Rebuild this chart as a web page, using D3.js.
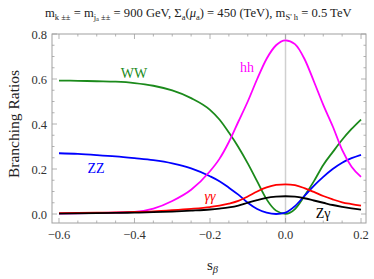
<!DOCTYPE html>
<html>
<head>
<meta charset="utf-8">
<script src="https://cdn.jsdelivr.net/npm/d3@7"></script>
<style>
  body { margin: 0; background: #fff; }
  svg { font-family: "Liberation Serif", "DejaVu Serif", serif; }
</style>
</head>
<body>
<div id="chart"></div>
<script>
// s_beta sample points
const sBeta = [-0.6, -0.55, -0.5, -0.45, -0.4, -0.35, -0.3, -0.25, -0.2, -0.175, -0.15, -0.125,
  -0.1, -0.075, -0.05, -0.025, 0, 0.025, 0.05, 0.075, 0.1, 0.125, 0.15, 0.175, 0.2];

const brWW = [0.593, 0.592, 0.590, 0.588, 0.582, 0.570, 0.549, 0.515, 0.463, 0.420, 0.362, 0.298,
  0.225, 0.145, 0.065, 0.015, 0.001, 0.022, 0.08, 0.145, 0.218, 0.275, 0.33, 0.378, 0.42];
const brZZ = [0.270, 0.267, 0.262, 0.256, 0.248, 0.239, 0.225, 0.203, 0.168, 0.146, 0.117, 0.086,
  0.05, 0.022, 0.006, 0.0, 0.006, 0.035, 0.08, 0.125, 0.165, 0.2, 0.228, 0.248, 0.263];
const brHH = [0.002, 0.003, 0.004, 0.006, 0.009, 0.024, 0.058, 0.108, 0.19, 0.245, 0.32, 0.41,
  0.5, 0.6, 0.69, 0.75, 0.772, 0.755, 0.69, 0.59, 0.485, 0.39, 0.285, 0.21, 0.165];
const brAA = [0.004, 0.005, 0.006, 0.007, 0.009, 0.012, 0.017, 0.023, 0.031, 0.037, 0.046, 0.058,
  0.078, 0.1, 0.118, 0.129, 0.132, 0.128, 0.115, 0.098, 0.08, 0.065, 0.052, 0.044, 0.037];
const brZA = [0.002, 0.003, 0.004, 0.005, 0.006, 0.008, 0.011, 0.015, 0.02, 0.024, 0.029, 0.037,
  0.05, 0.062, 0.072, 0.077, 0.079, 0.077, 0.07, 0.06, 0.05, 0.04, 0.032, 0.025, 0.019];

const xMajor = [-0.6, -0.4, -0.2, 0.0, 0.2];
const yMajor = [0.0, 0.2, 0.4, 0.6, 0.8];

const width = 374, height = 279;
const svg = d3.select("#chart").append("svg")
  .attr("width", width).attr("height", height);

const x = d3.scaleLinear().domain([-0.6185, 0.2132]).range([52, 366]);
const y = d3.scaleLinear().domain([-0.04, 0.8]).range([223, 34]);

const frameColor = "#a0a0a0";

// reference line at s = 0
svg.append("line")
  .attr("x1", x(0)).attr("x2", x(0))
  .attr("y1", y.range()[0]).attr("y2", y.range()[1])
  .attr("stroke", "#d0d0d0").attr("stroke-width", 1.5);

// frame
svg.append("rect")
  .attr("x", x.range()[0]).attr("y", y.range()[1])
  .attr("width", x.range()[1] - x.range()[0])
  .attr("height", y.range()[0] - y.range()[1])
  .attr("fill", "none").attr("stroke", frameColor).attr("stroke-width", 1);

// ticks (inside the frame)
const xMinor = d3.range(-0.6, 0.2001, 0.05).filter(v => !xMajor.some(m => Math.abs(m - v) < 1e-6));
const yMinor = d3.range(0, 0.8001, 0.05).filter(v => !yMajor.some(m => Math.abs(m - v) < 1e-6));
const ticks = svg.append("g").attr("stroke", frameColor).attr("stroke-width", 0.8);
function xTick(v, len) {
  ticks.append("line").attr("x1", x(v)).attr("x2", x(v)).attr("y1", y.range()[0]).attr("y2", y.range()[0] - len);
  ticks.append("line").attr("x1", x(v)).attr("x2", x(v)).attr("y1", y.range()[1]).attr("y2", y.range()[1] + len);
}
function yTick(v, len) {
  ticks.append("line").attr("y1", y(v)).attr("y2", y(v)).attr("x1", x.range()[0]).attr("x2", x.range()[0] + len);
  ticks.append("line").attr("y1", y(v)).attr("y2", y(v)).attr("x1", x.range()[1]).attr("x2", x.range()[1] - len);
}
xMajor.forEach(v => xTick(v, 5));
xMinor.forEach(v => xTick(v, 2.5));
yMajor.forEach(v => yTick(v, 5));
yMinor.forEach(v => yTick(v, 2.5));

// tick labels
svg.append("g").selectAll("text").data(xMajor).enter().append("text")
  .attr("x", d => x(d)).attr("y", 239)
  .attr("text-anchor", "middle").attr("font-size", 12.5).attr("fill", "#333")
  .text(d => d3.format(".1f")(d).replace("-", "\u2212"));
svg.append("g").selectAll("text").data(yMajor).enter().append("text")
  .attr("x", 47).attr("y", d => y(d) + 4.5)
  .attr("text-anchor", "end").attr("font-size", 12.5).attr("fill", "#333")
  .text(d => d3.format(".1f")(d));

// axis labels
svg.append("text")
  .attr("transform", "translate(19,124) rotate(-90)")
  .attr("text-anchor", "middle").attr("font-size", 15.5).attr("fill", "#222")
  .text("Branching Ratios");
const xl = svg.append("text").attr("x", 207).attr("y", 270).attr("font-size", 15).attr("fill", "#222");
xl.append("tspan").text("s");
xl.append("tspan").attr("font-size", 10.5).attr("font-style", "italic").attr("dy", 3).text("β");

// title
const title = svg.append("text").attr("x", 45).attr("y", 17).attr("font-size", 12.6).attr("fill", "#222");
function part(t, sub) {
  const sp = title.append("tspan").text(t);
  if (sub) sp.attr("font-size", 8.5).attr("dy", 2.5);
  return sp;
}
part("m");
part("k \u00b1\u00b1", true);
title.append("tspan").attr("dy", -2.5).text(" = m");
part("j", true);
title.append("tspan").attr("font-size", 6.5).attr("dy", 1.5).text("a");
title.append("tspan").attr("font-size", 8.5).attr("dy", -1.5).text(" \u00b1\u00b1");
title.append("tspan").attr("dy", -2.5).text(" = 900 GeV, \u03a3");
part("a", true);
title.append("tspan").attr("dy", -2.5).text("(");
title.append("tspan").attr("font-style", "italic").text("\u03bc");
part("a", true);
title.append("tspan").attr("dy", -2.5).text(") = 450 (TeV), m");
part("S' h", true);
title.append("tspan").attr("dy", -2.5).text(" = 0.5 TeV");

// curves
const series = [
  { name: "WW", values: brWW, color: "#1b8a1b" },
  { name: "ZZ", values: brZZ, color: "#0000ff" },
  { name: "hh", values: brHH, color: "#ff00ff" },
  { name: "\u03b3\u03b3", values: brAA, color: "#ff0000" },
  { name: "Z\u03b3", values: brZA, color: "#000000" }
];
const line = d3.line()
  .x((d, i) => x(sBeta[i]))
  .y(d => y(d))
  .curve(d3.curveMonotoneX);
svg.append("g").selectAll("path").data(series).enter().append("path")
  .attr("d", d => line(d.values))
  .attr("fill", "none")
  .attr("stroke", d => d.color)
  .attr("stroke-width", 1.8);

// curve labels
const labels = [
  { text: "WW", color: "#1b8a1b", px: 134, py: 78, italic: false },
  { text: "ZZ", color: "#0000ff", px: 96, py: 173, italic: false },
  { text: "hh", color: "#ff00ff", px: 247, py: 72, italic: false },
  { text: "\u03b3\u03b3", color: "#ff0000", px: 210, py: 201, italic: true },
  { text: "Z\u03b3", color: "#000000", px: 323, py: 218, italic: false }
];
svg.append("g").selectAll("text").data(labels).enter().append("text")
  .attr("x", d => d.px).attr("y", d => d.py)
  .attr("text-anchor", "middle").attr("font-size", 14)
  .attr("fill", d => d.color)
  .attr("font-style", d => d.italic ? "italic" : null)
  .text(d => d.text);
</script>
</body>
</html>
